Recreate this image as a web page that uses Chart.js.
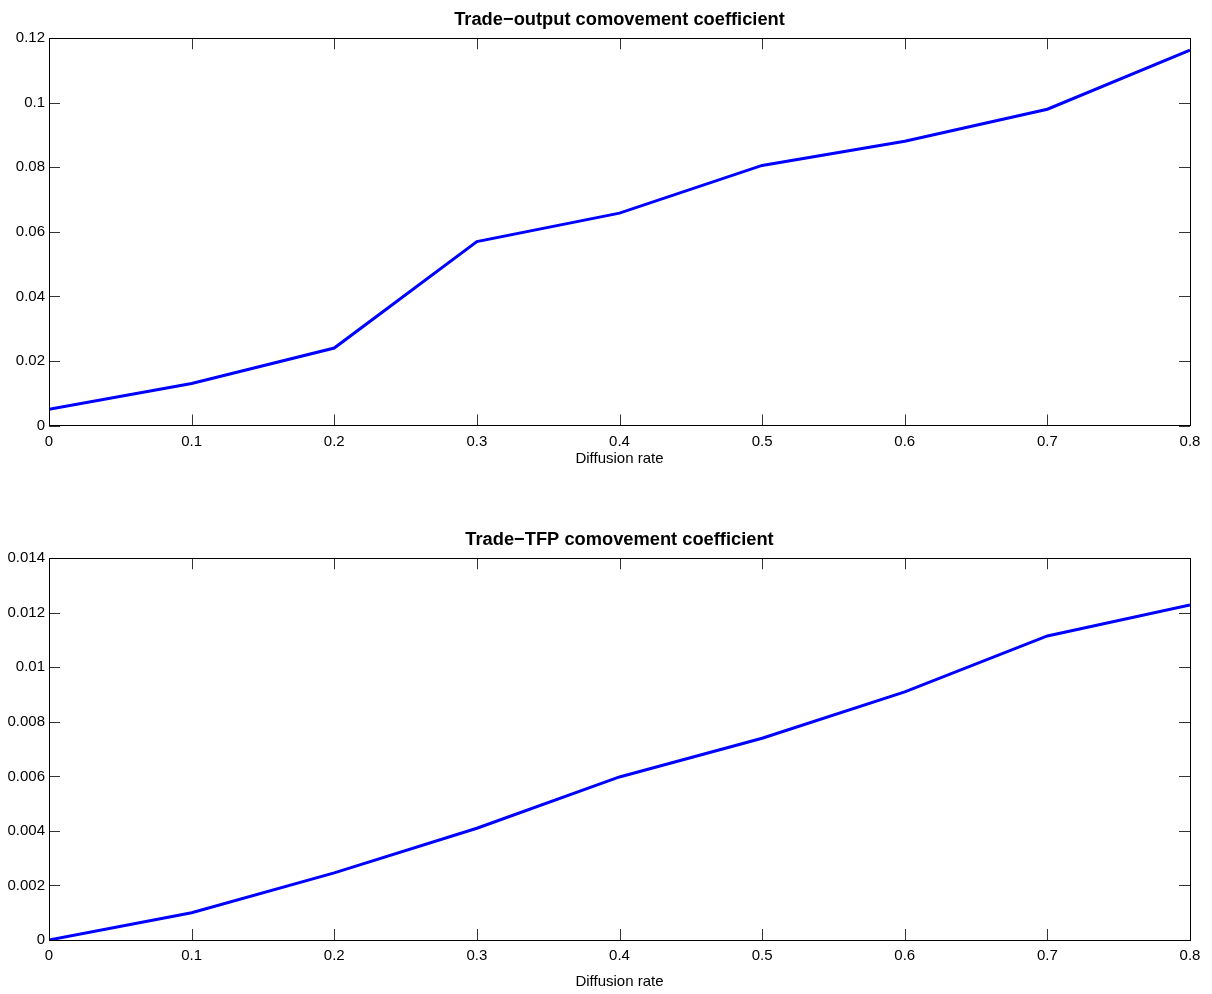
<!DOCTYPE html>
<html>
<head>
<meta charset="utf-8">
<script src="https://cdn.jsdelivr.net/npm/chart.js@4.4.0/dist/chart.umd.min.js"></script>
<style>
  body { margin: 0; background: #fff; }
  canvas { position: absolute; left: 0; }
  #js--output { top: 0; }
  #js--tfp { top: 520px; }
</style>
</head>
<body>
<canvas id="js--output" width="1212" height="473"></canvas>
<canvas id="js--tfp" width="1212" height="474"></canvas>
<script>
// data
var diffusionRate = [0, 0.1, 0.2, 0.3, 0.4, 0.5, 0.6, 0.7, 0.8];
var outputComovement = [0.005, 0.013, 0.024, 0.057, 0.0658, 0.0806, 0.0881, 0.098, 0.1163];
var tfpComovement = [0, 0.001, 0.00246, 0.0041, 0.00598, 0.0074, 0.0091, 0.01115, 0.01229];
var xTitle = 'Diffusion rate';

var fontFam = '"Liberation Sans", Arial, Helvetica, sans-serif';

// matlab style box with ticks pointing inwards
var inwardTicks = {
    id: 'inwardTicks',
    afterDraw: function (chart) {
        var ctx = chart.ctx;
        var a = chart.chartArea;
        var x = chart.scales.x;
        var y = chart.scales.y;
        var len = 11;
        ctx.save();
        ctx.strokeStyle = '#333';
        ctx.lineWidth = 1;
        ctx.beginPath();
        x.ticks.forEach(function (t) {
            var px = Math.round(x.getPixelForValue(t.value)) + 0.5;
            ctx.moveTo(px, a.bottom); ctx.lineTo(px, a.bottom - len);
            ctx.moveTo(px, a.top); ctx.lineTo(px, a.top + len);
        });
        y.ticks.forEach(function (t) {
            var py = Math.round(y.getPixelForValue(t.value)) + 0.5;
            ctx.moveTo(a.left, py); ctx.lineTo(a.left + len, py);
            ctx.moveTo(a.right, py); ctx.lineTo(a.right - len, py);
        });
        ctx.stroke();
        ctx.strokeStyle = '#000';
        ctx.strokeRect(Math.round(a.left) + 0.5, Math.round(a.top) + 0.5,
            Math.round(a.right - a.left), Math.round(a.bottom - a.top));
        ctx.restore();
    }
};

function fmt(v) {
    return String(Number(v.toFixed(5)));
}

function makeChart(id, title, values, yMax, yStep, xHeight, titleBottom) {
    var pts = diffusionRate.map(function (d, i) { return { x: d, y: values[i] }; });
    return new Chart(document.getElementById(id), {
        type: 'line',
        data: {
            datasets: [{
                data: pts,
                borderColor: '#0000ff',
                borderWidth: 3,
                pointRadius: 0,
                tension: 0,
                fill: false
            }]
        },
        options: {
            responsive: false,
            animation: false,
            devicePixelRatio: 1,
            layout: { padding: { left: 0, right: 22, top: 0, bottom: 0 } },
            plugins: {
                legend: { display: false },
                tooltip: { enabled: false },
                title: {
                    display: true,
                    fullSize: false,
                    text: title,
                    color: '#000',
                    font: { family: fontFam, size: 18.3, weight: 'bold' },
                    padding: { top: 9, bottom: 7.3 }
                }
            },
            scales: {
                x: {
                    type: 'linear',
                    min: 0,
                    max: 0.8,
                    grid: { display: false, drawTicks: false },
                    border: { display: false },
                    ticks: {
                        stepSize: 0.1,
                        padding: 7,
                        color: '#000',
                        font: { family: fontFam, size: 15 },
                        maxRotation: 0,
                        callback: function (v) { return fmt(v); }
                    },
                    title: {
                        display: true,
                        text: xTitle,
                        color: '#000',
                        font: { family: fontFam, size: 15 },
                        padding: { top: 0, bottom: titleBottom }
                    },
                    afterFit: function (s) { s.height = xHeight; }
                },
                y: {
                    min: 0,
                    max: yMax,
                    grid: { display: false, drawTicks: false },
                    border: { display: false },
                    ticks: {
                        stepSize: yStep,
                        padding: 4,
                        color: '#000',
                        font: { family: fontFam, size: 15 },
                        callback: function (v) { return fmt(v); }
                    },
                    afterFit: function (s) { s.width = 49; }
                }
            }
        },
        plugins: [inwardTicks]
    });
}

makeChart('js--output', 'Trade\u2212output comovement coefficient', outputComovement, 0.12, 0.02, 47.5, 5);
makeChart('js--tfp', 'Trade\u2212TFP comovement coefficient', tfpComovement, 0.014, 0.002, 54, 3.5);
</script>
</body>
</html>
